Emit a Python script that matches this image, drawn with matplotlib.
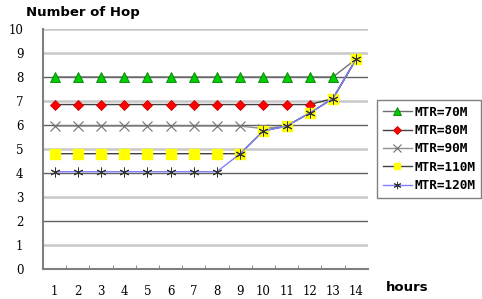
import matplotlib.pyplot as plt
import numpy as np

hours = list(range(1, 15))
mtr70 = [8.0] * 13 + [8.75]
mtr80 = [6.85] * 12 + [7.1, 8.75]
mtr90 = [5.95] * 9 + [5.85, 5.95, 6.5, 7.1, 8.75]
mtr110 = [4.8] * 9 + [5.75, 5.95, 6.5, 7.1, 8.75]
mtr120 = [4.05] * 8 + [4.8, 5.75, 5.95, 6.5, 7.1, 8.75]
labels = ["MTR=70M", "MTR=80M", "MTR=90M", "MTR=110M", "MTR=120M"]

fig = plt.figure(figsize=(4.82, 2.99), dpi=100)
ax = fig.add_axes([0.089, 0.101, 0.674, 0.802])

# alternating grid lines
for v in range(1, 11):
    if v % 2 == 1 or v == 10:
        ax.axhline(v, color="#c8c8c8", lw=1.8, zorder=0)
    else:
        ax.axhline(v, color="#606060", lw=1.0, zorder=0)

ax.plot(hours, mtr70, color="#707070", lw=1.0, marker="^", ms=7,
        mfc="#00cc00", mec="#008000", mew=0.6, label=labels[0], zorder=3)
ax.plot(hours, mtr80, color="#404040", lw=1.0, marker="D", ms=5.5,
        mfc="#ff0000", mec="#cc0000", mew=0.6, label=labels[1], zorder=3)
ax.plot(hours, mtr90, color="#909090", lw=1.0, marker="x", ms=7,
        mec="#707070", mew=0.8, label=labels[2], zorder=3)
ax.plot(hours, mtr110, color="#404040", lw=1.0, marker="s", ms=6.5,
        mfc="#ffff00", mec="#ffff00", label=labels[3], zorder=4)
ax.plot(hours, mtr120, color="#8080ff", lw=1.0, marker=(6, 2, 0), ms=7,
        mec="#333333", mew=0.7, label=labels[4], zorder=5)

ax.set_xlim(0.5, 14.5)
ax.set_ylim(0, 10)
ax.set_xticks(hours)
ax.set_xticks(np.arange(1.5, 14.5, 1), minor=True)
ax.set_yticks(range(0, 11))
ax.tick_params(axis="x", which="major", length=0, pad=12)
ax.tick_params(axis="x", which="minor", length=3, direction="in", color="#707070")
ax.tick_params(axis="y", length=0, pad=14)
for lab in ax.get_xticklabels() + ax.get_yticklabels():
    lab.set_family("DejaVu Serif")
    lab.set_fontsize(8.5)

for s in ["top", "right"]:
    ax.spines[s].set_visible(False)
for s in ["left", "bottom"]:
    ax.spines[s].set_color("#808080")
    ax.spines[s].set_linewidth(1.5)

fig.text(0.054, 0.958, "Number of Hop", fontsize=9.5, fontweight="bold",
         family="DejaVu Sans", va="center")
fig.text(0.80, 0.04, "hours", fontsize=9.5, fontweight="bold",
         family="DejaVu Sans", va="center")

leg = ax.legend(loc="center left", bbox_to_anchor=(1.028, 0.5), frameon=True,
                fancybox=False, edgecolor="#606060", handlelength=2.3,
                handletextpad=0.2, borderpad=0.45, labelspacing=0.42,
                markerscale=0.75, borderaxespad=0.0,
                prop={"family": "DejaVu Sans Mono", "weight": "bold", "size": 9.2})
leg.get_frame().set_linewidth(1.0)

fig.savefig("out.png", dpi=100)
